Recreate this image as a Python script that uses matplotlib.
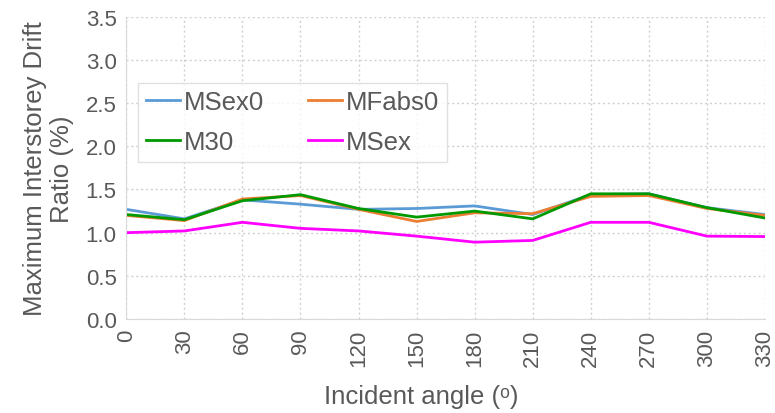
import numpy as np
import matplotlib.pyplot as plt

angles = [0, 30, 60, 90, 120, 150, 180, 210, 240, 270, 300, 330]
msex0 = [1.27, 1.16, 1.38, 1.33, 1.27, 1.28, 1.31, 1.21, 1.44, 1.45, 1.29, 1.21]
mfabs0 = [1.20, 1.14, 1.39, 1.43, 1.27, 1.13, 1.23, 1.22, 1.42, 1.43, 1.28, 1.20]
m30 = [1.21, 1.15, 1.37, 1.44, 1.28, 1.18, 1.25, 1.16, 1.45, 1.45, 1.29, 1.17]
msex = [1.00, 1.02, 1.12, 1.05, 1.02, 0.96, 0.89, 0.91, 1.12, 1.12, 0.96, 0.955]

txt = '#595959'
plt.rcParams['font.family'] = ['Liberation Sans', 'DejaVu Sans']

fig = plt.figure(figsize=(7.75, 4.14), dpi=100)
ax = fig.add_axes([0.163, 0.227, 0.824, 0.730])

l1, = ax.plot(angles, msex0, color='#5B9BD5', lw=2, label='MSex0')
l2, = ax.plot(angles, mfabs0, color='#ED7D31', lw=2, label='MFabs0')
l3, = ax.plot(angles, m30, color='#009900', lw=2, label='M30')
l4, = ax.plot(angles, msex, color='#FF00FF', lw=2, label='MSex')

ax.set_xlim(0, 330)
ax.set_ylim(0, 3.5)
ax.set_xticks(angles)
ax.set_xticklabels([str(a) for a in angles], rotation=90)
ax.set_yticks(np.arange(0, 3.51, 0.5))
ax.set_yticklabels(['%.1f' % v for v in np.arange(0, 3.51, 0.5)])
ax.tick_params(colors=txt, labelsize=16, length=0, pad=7)
ax.grid(True, color='#D0D0D0', linestyle=(0, (1.5, 2)), lw=1)
for s in ['top', 'right']:
    ax.spines[s].set_visible(False)
ax.spines['left'].set_color('#D9D9D9')
ax.spines['bottom'].set_color('#D9D9D9')

ax.set_xlabel('Incident angle (ᵒ)', color=txt, fontsize=18.5)
ax.xaxis.set_label_coords(0.462, -0.215)
ax.set_ylabel('Maximum Interstorey Drift\nRatio (%)', color=txt, fontsize=18.5, labelpad=8)

# row-wise order like the original: MSex0, MFabs0 / M30, MSex
leg = ax.legend([l1, l3, l2, l4], ['MSex0', 'M30', 'MFabs0', 'MSex'], ncol=2,
                loc='upper left', bbox_to_anchor=(0.019, 0.782), fontsize=18.5,
                frameon=True, fancybox=False, handlelength=1.32, handletextpad=0.15,
                columnspacing=1.7, labelcolor=txt, borderpad=0.3, labelspacing=0.62,
                borderaxespad=0)
leg.get_frame().set_edgecolor('#D9D9D9')
leg.get_frame().set_linewidth(1)

fig.savefig('out.png', dpi=100)
